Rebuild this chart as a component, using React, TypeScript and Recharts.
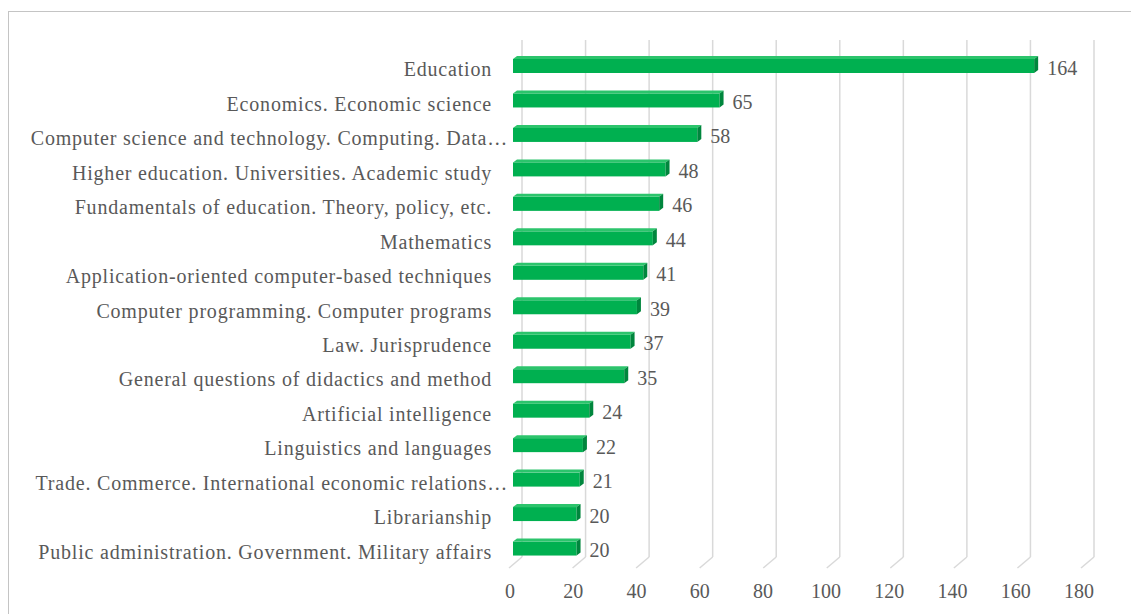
import { BarChart, Bar, XAxis, YAxis, CartesianGrid, LabelList } from "recharts";

const categories = [
  "Education",
  "Economics. Economic science",
  "Computer science and technology. Computing. Data…",
  "Higher education. Universities. Academic study",
  "Fundamentals of education. Theory, policy, etc.",
  "Mathematics",
  "Application-oriented computer-based techniques",
  "Computer programming. Computer programs",
  "Law. Jurisprudence",
  "General questions of didactics and method",
  "Artificial intelligence",
  "Linguistics and languages",
  "Trade. Commerce. International economic relations…",
  "Librarianship",
  "Public administration. Government. Military affairs",
];

const counts = [164, 65, 58, 48, 46, 44, 41, 39, 37, 35, 24, 22, 21, 20, 20];

const xTicks = [0, 20, 40, 60, 80, 100, 120, 140, 160, 180];

const data = categories.map((name, i) => ({ name, count: counts[i] }));

const FONT = "Liberation Serif, serif";
const TEXT = "#595959";
const GRID = "#d9d9d9";

// excel-ish 3D bar: front face, light top, dark right side
function Bar3D(props: any) {
  const { x, y, width, height } = props;
  const d = 4;
  const t = 3;
  return (
    <g>
      <rect x={x} y={y + t} width={width} height={height - t} fill="#00b050" />
      <polygon
        points={`${x},${y + t} ${x + d},${y} ${x + width + d},${y} ${x + width},${y + t}`}
        fill="#2cc46c"
      />
      <polygon
        points={`${x + width},${y + t} ${x + width + d},${y} ${x + width + d},${y + height - t} ${x + width},${y + height}`}
        fill="#00863d"
      />
    </g>
  );
}

// back-wall gridline + floor diagonal
function GridLine(props: any) {
  const { x1, y1, y2 } = props;
  return (
    <g key={props.key}>
      <line x1={x1 + 9} y1={y1 - 7} x2={x1 + 9} y2={y2 - 7} stroke={GRID} strokeWidth={1.5} />
      <line x1={x1 + 9} y1={y2 - 7} x2={x1 - 4} y2={y2 + 4} stroke={GRID} strokeWidth={1.5} />
    </g>
  );
}

function XTick(props: any) {
  const { x, y, payload } = props;
  const shift = 3 + (payload.value / 180) * 3;
  return (
    <text x={x - shift} y={y + 34} textAnchor="middle" fill={TEXT} style={{ fontSize: 20, fontFamily: FONT }}>
      {payload.value}
    </text>
  );
}

function YTick(props: any) {
  const { y, payload } = props;
  const label = String(payload.value);
  const end = label.endsWith("…") ? 508 : 492;
  return (
    <text
      x={end}
      y={y + 12}
      textAnchor="end"
      fill={TEXT}
      style={{ fontSize: 20, fontFamily: FONT, letterSpacing: 0.8 }}
    >
      {label}
    </text>
  );
}

function ValueLabel(props: any) {
  const { x, y, width, height, value } = props;
  return (
    <text x={x + width + 13} y={y + height / 2 + 10} fill={TEXT} style={{ fontSize: 20, fontFamily: FONT }}>
      {value}
    </text>
  );
}

export default function App() {
  return (
    <div style={{ position: "relative", width: 1131, height: 614, background: "#fff" }}>
      <style>{`body{margin:0;overflow:hidden}`}</style>
      <div
        style={{
          position: "absolute",
          left: 8,
          top: 11,
          right: 0,
          bottom: 0,
          borderTop: "1px solid #c4c4c4",
          borderLeft: "1px solid #c4c4c4",
        }}
      />
      <div style={{ position: "absolute", left: 0, top: 0 }}>
        <BarChart
          width={1131}
          height={614}
          data={data}
          layout="vertical"
          margin={{ top: 47, right: 46, bottom: 10, left: 0 }}
          barSize={17}
        >
          <CartesianGrid horizontal={false} vertical={GridLine} />
          <XAxis
            type="number"
            domain={[0, 180]}
            ticks={xTicks}
            axisLine={false}
            tickLine={false}
            tickSize={0}
            tickMargin={0}
            height={40}
            tick={XTick}
            interval={0}
          />
          <YAxis
            type="category"
            dataKey="name"
            width={513}
            axisLine={false}
            tickLine={false}
            tick={YTick}
            interval={0}
          />
          <Bar dataKey="count" shape={Bar3D} isAnimationActive={false}>
            <LabelList dataKey="count" content={ValueLabel} />
          </Bar>
        </BarChart>
      </div>
    </div>
  );
}
